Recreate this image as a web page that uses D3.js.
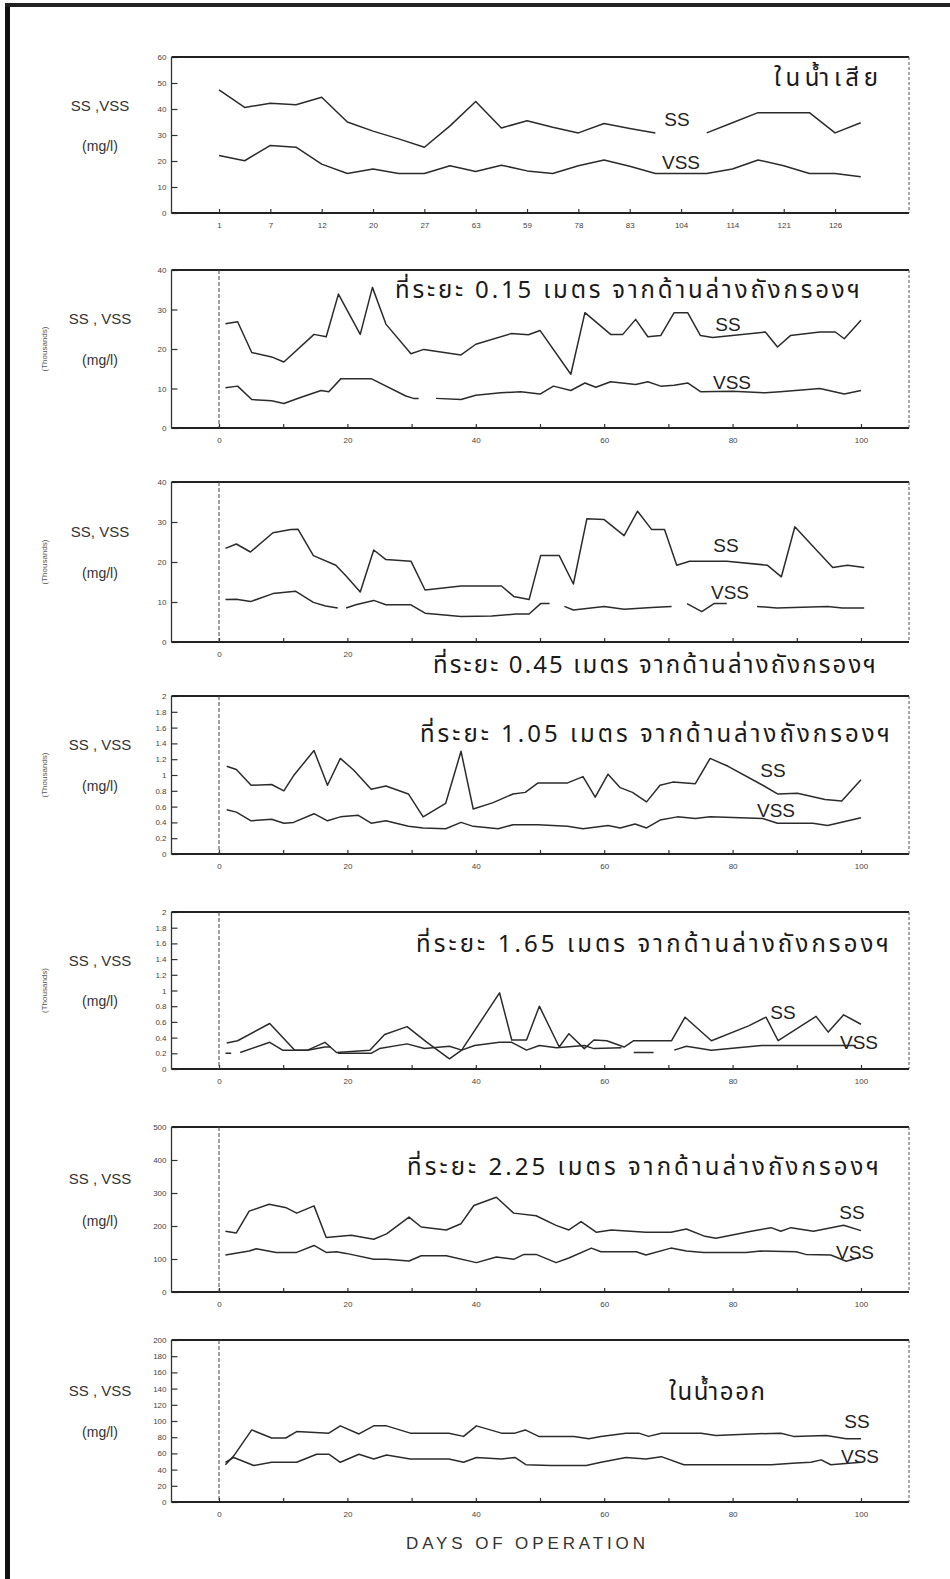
<!DOCTYPE html>
<html>
<head>
<meta charset="utf-8">
<script src="https://cdn.jsdelivr.net/npm/d3@7"></script>
<style>
  body { margin: 0; background: #fff; }
  svg text { font-family: "Liberation Sans", Arial, sans-serif; }
  .thai { font-family: "Tlwg Typo", "TlwgTypo", "Tlwg Typist", "Noto Sans Thai", "Loma", "Garuda", "Norasi", "DejaVu Sans", sans-serif; }
  .tick text { font-family: "Liberation Sans Narrow", "Liberation Sans", sans-serif; font-size: 8px; fill: #444; }
  .tick line { stroke: #333; stroke-width: 1.2; }
</style>
</head>
<body>
<div id="chart"></div>
<script>
// ---- data ----
// top panel: influent, x axis is sample number, labels on every second sample
var p1Labels = ["1", "7", "12", "20", "27", "63", "59", "78", "83", "104", "114", "121", "126"];
var p1SS = [47.4, 40.6, 42.2, 41.6, 44.5, 35, 31.5, 28.5, 25.3, 33.5, 42.9, 32.7, 35.5, 33, 30.8, 34.4, 32.5, 30.8, null, 30.8, 34.7, 38.6, 38.6, 38.6, 30.8, 34.7];
var p1VSS = [22.1, 20.1, 26, 25.3, 18.8, 15.2, 16.9, 15.2, 15.2, 18.2, 16, 18.4, 16.2, 15.2, 18.2, 20.4, 18, 15.2, 15.2, 15.2, 16.9, 20.4, 18.2, 15.2, 15.2, 13.9];

// [day, value]; null = gap in the trace
var p2SS = [[1,26.4],[2.9,26.9],[5.1,19.1],[8.2,18],[10.1,16.7],[14.8,23.7],[16.7,23.1],[18.6,33.9],[22,23.7],[23.9,35.6],[26,26.3],[29.9,18.8],[31.9,19.9],[37.7,18.5],[40,21.2],[45.5,23.9],[48.2,23.6],[50,24.7],[54.8,13.6],[57,29.2],[61,23.7],[62.9,23.7],[64.9,27.5],[66.8,23.1],[68.8,23.4],[70.9,29.2],[73,29.2],[75,23.4],[76.9,22.9],[85.1,24.3],[87,20.5],[89,23.4],[93.6,24.3],[96,24.3],[97.4,22.6],[100,27.3]];
var p2VSS = [[1,10.2],[2.9,10.6],[5.1,7.2],[8.2,6.9],[10.1,6.2],[12.8,7.8],[15.9,9.5],[17.1,9.2],[19,12.5],[23.7,12.5],[29.1,8.1],[30.3,7.5],[31.1,7.5],[32.4,null],[33.8,7.5],[37.7,7.2],[40,8.3],[43.9,8.9],[47,9.2],[50,8.6],[52.1,10.6],[54.8,9.5],[57,11.4],[58.7,10.3],[61,11.7],[64.9,11],[66.8,11.7],[68.8,10.6],[70.9,10.8],[73,11.4],[75,9.2],[80,9.3],[85.1,8.9],[87.4,9.2],[93.6,10],[97.4,8.6],[100,9.5]];

var p3SS = [[1,23.4],[2.7,24.5],[4.9,22.5],[8.4,27.3],[11.2,28.1],[12.3,28.2],[14.7,21.6],[18.2,19.2],[19.8,16.5],[22,12.5],[24.1,23],[26,20.6],[29.9,20.2],[32.1,13],[37.7,14],[44,14],[45.9,11.4],[48.3,10.6],[50.1,21.6],[53,21.6],[55.2,14.5],[57.3,30.8],[60,30.6],[63.1,26.6],[65.2,32.7],[67.4,28.1],[69.4,28.1],[71.3,19.2],[73.3,20.2],[79.1,20.2],[85.4,19.2],[87.6,16.3],[89.7,28.8],[92.4,24.1],[95.6,18.6],[97.9,19.2],[100.5,18.6]];
var p3VSS = [[1,10.6],[2.7,10.7],[4.9,10.1],[8.4,12.1],[11.9,12.7],[14.7,9.9],[16.6,9],[18.5,8.5],[19.1,null],[19.8,8.5],[21.3,9.3],[24.1,10.4],[26,9.3],[29.9,9.3],[32.1,7.2],[37.7,6.4],[42.5,6.5],[46.3,7],[48.3,7],[50.1,9.6],[51.5,9.6],[52.6,null],[53.8,8.9],[55.2,8],[60,8.9],[63.1,8.2],[67.4,8.6],[70.5,8.9],[71.7,null],[72.9,9.6],[75.2,7.6],[77.1,9.6],[79.1,9.6],[81.5,null],[83.8,8.9],[86.9,8.5],[94.8,8.9],[97.1,8.5],[100.5,8.5]];

var p4SS = [[1.2,1.11],[2.7,1.07],[5,0.87],[8.2,0.88],[10.1,0.8],[11.6,0.99],[14.8,1.31],[16.9,0.87],[18.9,1.21],[21,1.06],[23.7,0.82],[26,0.86],[29.5,0.76],[31.8,0.47],[35.3,0.64],[37.7,1.3],[39.6,0.57],[42.7,0.65],[45.8,0.76],[47.7,0.78],[49.7,0.9],[54.3,0.9],[56.7,0.98],[58.6,0.72],[60.6,1.01],[62.5,0.84],[64.4,0.78],[66.6,0.66],[68.7,0.87],[70.7,0.91],[74.2,0.89],[76.5,1.21],[79.3,1.11],[84.7,0.87],[87,0.76],[90.1,0.77],[94.4,0.69],[97,0.67],[100,0.94]];
var p4VSS = [[1.2,0.56],[2.7,0.53],[5,0.42],[8.2,0.44],[10.1,0.39],[11.6,0.4],[14.8,0.51],[16.9,0.42],[18.9,0.47],[21.7,0.49],[23.7,0.39],[26,0.42],[29.5,0.35],[31.8,0.33],[35.3,0.32],[37.7,0.4],[39.6,0.35],[43.5,0.32],[45.8,0.37],[49.7,0.37],[54.3,0.35],[56.7,0.32],[60.6,0.36],[62.5,0.33],[64.8,0.38],[66.6,0.33],[68.7,0.43],[71.4,0.47],[74.2,0.45],[76.5,0.47],[84.7,0.45],[87,0.39],[92.5,0.39],[94.8,0.36],[100,0.46]];

var p5SS = [[1.2,0.33],[2.9,0.36],[7.9,0.58],[11.8,0.24],[13.8,0.24],[16.5,0.34],[18.3,0.21],[23.5,0.24],[25.8,0.44],[29.3,0.54],[32.4,0.34],[35.9,0.13],[37.8,0.24],[43.7,0.97],[45.6,0.37],[47.9,0.37],[49.9,0.8],[53,0.28],[54.5,0.45],[56.9,0.26],[58.4,0.37],[60.4,0.36],[63.1,0.28],[64.6,0.36],[70.5,0.36],[72.6,0.66],[76.7,0.36],[82.5,0.55],[85.2,0.66],[87.1,0.36],[93,0.67],[94.9,0.47],[97.3,0.69],[100,0.57]];
var p5VSS = [[1,0.2],[1.9,0.2],[2.5,null],[3.3,0.21],[7.9,0.34],[9.9,0.24],[13.8,0.24],[16.5,0.28],[17.4,0.28],[17.9,null],[18.5,0.2],[23.7,0.2],[25,0.26],[29.3,0.32],[32,0.26],[35.9,0.29],[37.8,0.24],[39.8,0.3],[43.7,0.34],[45.6,0.34],[47.9,0.24],[49.9,0.3],[52.6,0.27],[56.9,0.3],[58.4,0.26],[62.7,0.27],[63.6,null],[64.6,0.21],[67.7,0.21],[69.3,null],[70.9,0.24],[72.8,0.29],[76.7,0.24],[84.5,0.3],[96.1,0.3],[99.2,0.3]];

var p6SS = [[1,184],[2.7,179],[4.7,245],[7.8,266],[10.5,255],[12.1,239],[14.8,261],[16.7,165],[20.6,172],[24.1,160],[26.1,176],[29.6,227],[31.5,197],[35.4,188],[37.7,207],[39.7,262],[43.2,287],[45.9,239],[49.4,231],[52.5,202],[54.5,188],[56.4,213],[58.8,181],[61.1,188],[66.5,181],[70.4,181],[72.8,191],[75.5,170],[77.4,163],[82.9,184],[86,195],[87.5,184],[89.1,195],[92.6,184],[97.3,202],[100,186]];
var p6VSS = [[1,112],[4.7,124],[5.8,131],[8.9,120],[12.1,120],[14.8,141],[16.7,120],[18.3,122],[19.8,117],[24.1,99],[26.1,99],[29.6,94],[31.5,110],[35.4,110],[40.1,89],[43.2,106],[45.9,99],[47.5,114],[49.4,114],[52.5,89],[54.5,103],[58,133],[59.5,122],[65,122],[66.5,112],[70.4,133],[72.8,124],[75.5,120],[82.1,120],[84.4,124],[89.9,122],[91.4,114],[95.3,112],[97.7,93],[100,106]];

var p7SS = [[1,46],[2.3,57],[5.1,89],[8.2,79],[10.4,79],[12.1,87],[17.1,85],[18.9,94],[21.8,84],[24.1,94],[26.1,94],[29.8,85],[35.8,85],[38.1,81],[40.1,94],[44,85],[46.1,85],[47.7,89],[49.8,81],[55.3,81],[57.6,78],[59.5,81],[63.4,85],[65.4,85],[66.9,81],[68.9,85],[75.1,85],[77.4,82],[82.9,84],[87.5,85],[89.5,81],[94.6,82],[97.7,78],[100,78]];
var p7VSS = [[1,49],[2.3,55],[5.4,45],[8.2,49],[12.1,49],[15.2,59],[17.1,59],[18.9,49],[21.8,59],[24.1,53],[26.1,58],[29.8,53],[35.8,53],[38.1,49],[40.1,55],[44,53],[46.1,55],[47.8,46],[51.7,45],[57.2,45],[59.5,49],[63.4,55],[66.5,53],[68.9,56],[72.4,46],[75.1,46],[86,46],[89.9,48],[92.2,49],[93.8,52],[95.3,46],[100,49]];

var dayTicks = [0, 10, 20, 30, 40, 50, 60, 70, 80, 90, 100];

// ---- layout ----
var W = 950, H = 1579;
var frameL = 171.5, frameR = 909;

var svg = d3.select("#chart").append("svg")
  .attr("width", W).attr("height", H)
  .style("background", "#fff");

// page border of the scanned sheet
svg.append("rect").attr("x", 5).attr("y", 3).attr("width", 5).attr("height", H - 3).attr("fill", "#111");
svg.append("rect").attr("x", 5).attr("y", 3).attr("width", W - 5).attr("height", 4).attr("fill", "#222");

var xDay = d3.scaleLinear().domain([-7.4, 107.48]).range([frameL, frameR]);
var xIdx = d3.scaleLinear().domain([-1.851, 26.88]).range([frameL, frameR]);

var panels = [
  { top: 57, bottom: 213, yMax: 60, yTicks: d3.range(0, 61, 10), ss: p1SS, vss: p1VSS, index: true,
    label: "SS ,VSS", ssLab: [677, 119], vssLab: [681, 162],
    title: "ในน้ำเสีย", titleX: 774, titleY: 86, titleLen: 104 },
  { top: 270, bottom: 428, yMax: 40, yTicks: d3.range(0, 41, 10), ss: p2SS, vss: p2VSS, thousands: true,
    label: "SS , VSS", ssLab: [728, 324], vssLab: [732, 382],
    title: "ที่ระยะ 0.15 เมตร จากด้านล่างถังกรองฯ", titleX: 395, titleY: 298, titleLen: 465 },
  { top: 482, bottom: 642, yMax: 40, yTicks: d3.range(0, 41, 10), ss: p3SS, vss: p3VSS, thousands: true,
    label: "SS, VSS", ssLab: [726, 545], vssLab: [730, 592], hideLabelsFrom: 30,
    title: "ที่ระยะ 0.45 เมตร จากด้านล่างถังกรองฯ", titleX: 433, titleY: 673, titleLen: 443, mask: true },
  { top: 696, bottom: 854, yMax: 2, yTicks: d3.range(0, 2.01, 0.2), ss: p4SS, vss: p4VSS, thousands: true,
    label: "SS , VSS", ssLab: [773, 770], vssLab: [776, 810],
    title: "ที่ระยะ 1.05 เมตร จากด้านล่างถังกรองฯ", titleX: 420, titleY: 742, titleLen: 470 },
  { top: 912, bottom: 1069, yMax: 2, yTicks: d3.range(0, 2.01, 0.2), ss: p5SS, vss: p5VSS, thousands: true,
    label: "SS , VSS", ssLab: [783, 1012], vssLab: [859, 1042],
    title: "ที่ระยะ 1.65 เมตร จากด้านล่างถังกรองฯ", titleX: 416, titleY: 952, titleLen: 473 },
  { top: 1127, bottom: 1292, yMax: 500, yTicks: d3.range(0, 501, 100), ss: p6SS, vss: p6VSS,
    label: "SS , VSS", ssLab: [852, 1212], vssLab: [855, 1252],
    title: "ที่ระยะ 2.25 เมตร จากด้านล่างถังกรองฯ", titleX: 407, titleY: 1175, titleLen: 472 },
  { top: 1340, bottom: 1502, yMax: 200, yTicks: d3.range(0, 201, 20), ss: p7SS, vss: p7VSS,
    label: "SS , VSS", ssLab: [857, 1421], vssLab: [860, 1456],
    title: "ในน้ำออก", titleX: 669, titleY: 1400, titleLen: 96 }
];

var fmt = function(d) { return String(+d.toFixed(1)); };

panels.forEach(function(p) {
  var g = svg.append("g");
  var y = d3.scaleLinear().domain([0, p.yMax]).range([p.bottom, p.top]);
  var x = p.index ? xIdx : xDay;

  // x axis: ticks point up into the plot
  var xAxis;
  if (p.index) {
    xAxis = d3.axisBottom(x).tickValues(d3.range(0, 25, 2))
      .tickFormat(function(d) { return p1Labels[d / 2]; });
  } else {
    xAxis = d3.axisBottom(x).tickValues(dayTicks)
      .tickFormat(function(d) {
        if (p.hideLabelsFrom && d >= p.hideLabelsFrom) return "";
        return d % 20 === 0 ? d : "";
      });
  }
  xAxis.tickSizeInner(-4).tickSizeOuter(0).tickPadding(9);
  var gx = g.append("g").attr("transform", "translate(0," + p.bottom + ")").call(xAxis);
  gx.select(".domain").remove();

  var yAxis = d3.axisLeft(y).tickValues(p.yTicks).tickFormat(fmt)
    .tickSizeInner(-6).tickSizeOuter(0).tickPadding(5);
  var gy = g.append("g").attr("transform", "translate(" + frameL + ",0)").call(yAxis);
  gy.select(".domain").remove();

  // frame
  g.append("line").attr("x1", frameL).attr("x2", frameR).attr("y1", p.top).attr("y2", p.top)
    .attr("stroke", "#222").attr("stroke-width", 2.2);
  g.append("line").attr("x1", frameL).attr("x2", frameR).attr("y1", p.bottom).attr("y2", p.bottom)
    .attr("stroke", "#222").attr("stroke-width", 2.2);
  g.append("line").attr("x1", frameL).attr("x2", frameL).attr("y1", p.top).attr("y2", p.bottom)
    .attr("stroke", "#333").attr("stroke-width", 1.3);
  g.append("line").attr("x1", frameR).attr("x2", frameR).attr("y1", p.top).attr("y2", p.bottom)
    .attr("stroke", "#555").attr("stroke-width", 1).attr("stroke-dasharray", "3,2");
  if (!p.index) {
    g.append("line").attr("x1", xDay(0)).attr("x2", xDay(0)).attr("y1", p.top).attr("y2", p.bottom)
      .attr("stroke", "#444").attr("stroke-width", 1).attr("stroke-dasharray", "4,2");
  }

  // traces
  var line = d3.line()
    .defined(function(d) { return d[1] !== null; })
    .x(function(d) { return x(d[0]); })
    .y(function(d) { return y(d[1]); });
  [p.ss, p.vss].forEach(function(s) {
    var pts = p.index ? s.map(function(v, i) { return [i, v]; }) : s;
    g.append("path").datum(pts).attr("d", line)
      .attr("fill", "none").attr("stroke", "#2b2b2b").attr("stroke-width", 1.5)
      .attr("stroke-linejoin", "round");
  });

  // axis titles on the left
  var h = p.bottom - p.top;
  g.append("text").attr("x", 100).attr("y", p.top + h * 0.31).attr("text-anchor", "middle")
    .attr("dominant-baseline", "central")
    .style("font-family", "'Liberation Sans Narrow', 'Liberation Sans', sans-serif")
    .style("font-size", "15px").attr("fill", "#333").text(p.label);
  g.append("text").attr("x", 100).attr("y", p.top + h * 0.57).attr("text-anchor", "middle")
    .attr("dominant-baseline", "central")
    .style("font-family", "'Liberation Sans Narrow', 'Liberation Sans', sans-serif")
    .style("font-size", "14px").attr("fill", "#333").text("(mg/l)");
  if (p.thousands) {
    g.append("text").attr("transform", "translate(44," + (p.top + h * 0.5) + ") rotate(-90)")
      .attr("text-anchor", "middle").attr("dominant-baseline", "central")
      .style("font-size", "8px").attr("fill", "#555").text("(Thousands)");
  }

  // series labels
  g.append("text").attr("x", p.ssLab[0]).attr("y", p.ssLab[1]).attr("text-anchor", "middle")
    .attr("dominant-baseline", "central").style("font-size", "19px").attr("fill", "#222").text("SS");
  g.append("text").attr("x", p.vssLab[0]).attr("y", p.vssLab[1]).attr("text-anchor", "middle")
    .attr("dominant-baseline", "central").style("font-size", "19px").attr("fill", "#222").text("VSS");

  // pasted-on caption
  if (p.mask) {
    g.append("rect").attr("x", p.titleX - 8).attr("y", p.bottom + 3)
      .attr("width", frameR - p.titleX + 8).attr("height", 36).attr("fill", "#fff");
  }
  g.append("text").attr("class", "thai").attr("x", p.titleX).attr("y", p.titleY)
    .attr("textLength", p.titleLen).attr("lengthAdjust", "spacing")
    .style("font-size", "24px").attr("fill", "#1a1a1a").text(p.title);
});

svg.append("text").attr("x", 406).attr("y", 1549)
  .attr("textLength", 239).attr("lengthAdjust", "spacing")
  .style("font-size", "17px").attr("fill", "#333").text("DAYS OF OPERATION");
</script>
</body>
</html>
